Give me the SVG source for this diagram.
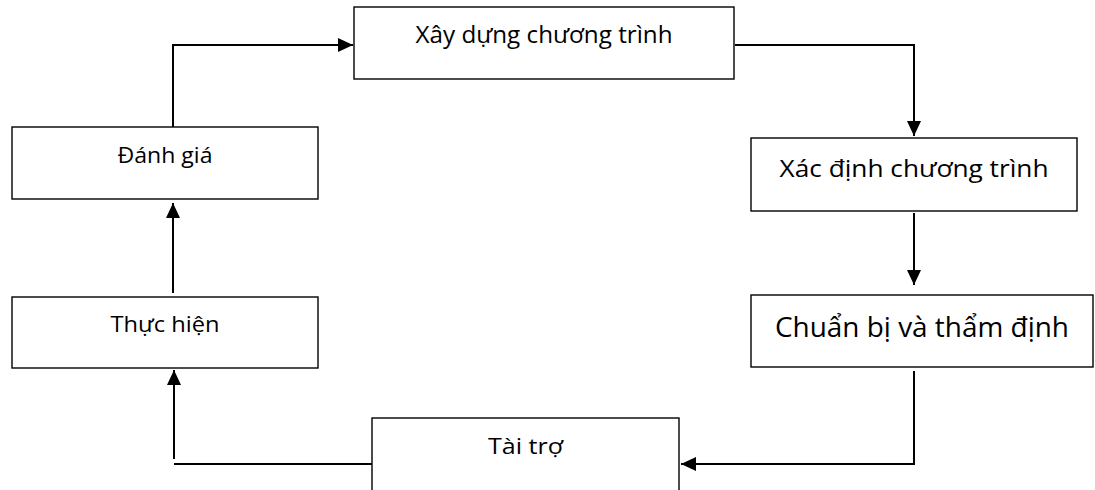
<svg xmlns="http://www.w3.org/2000/svg" width="1095" height="490" viewBox="0 0 1095 490">
<style>
.box{fill:#fff;stroke:#000;stroke-width:1.4}
.lbl{font-family:"Open Sans","Noto Sans",sans-serif;fill:#000;text-anchor:middle}
.conn{fill:none;stroke:#000;stroke-width:2}
</style>
<defs>
<marker id="ah" markerUnits="userSpaceOnUse" markerWidth="15" markerHeight="14" refX="15" refY="7" orient="auto">
<path d="M0,0 L15,7 L0,14 Z" fill="#000"/>
</marker>
</defs>
<rect width="1095" height="490" fill="#fff"/>
<g id="connectors">
<path class="conn" d="M173,127 V45 H353" marker-end="url(#ah)"/>
<path class="conn" d="M735,45 H914 V136" marker-end="url(#ah)"/>
<path class="conn" d="M914,213 V285" marker-end="url(#ah)"/>
<path class="conn" d="M914,371 V464 H681" marker-end="url(#ah)"/>
<path class="conn" d="M372,464 H174"/>
<path class="conn" d="M174,459 V370" marker-end="url(#ah)"/>
<path class="conn" d="M173,293 V203" marker-end="url(#ah)"/>
</g>
<g id="xay-dung">
<rect class="box" x="354" y="7" width="380" height="72"/>
<text class="lbl" x="544" y="43" font-size="23" textLength="257" lengthAdjust="spacingAndGlyphs">Xây dựng chương trình</text>
</g>
<g id="xac-dinh">
<rect class="box" x="751" y="138" width="326" height="73"/>
<text class="lbl" x="914" y="177" font-size="24" textLength="269" lengthAdjust="spacingAndGlyphs">Xác định chương trình</text>
</g>
<g id="chuan-bi">
<rect class="box" x="751" y="295" width="342" height="72"/>
<text class="lbl" x="922" y="337" font-size="27" textLength="294" lengthAdjust="spacingAndGlyphs">Chuẩn bị và thẩm định</text>
</g>
<g id="tai-tro">
<rect class="box" x="372" y="418" width="307" height="80"/>
<text class="lbl" x="525.5" y="454" font-size="22" textLength="75" lengthAdjust="spacingAndGlyphs">Tài trợ</text>
</g>
<g id="thuc-hien">
<rect class="box" x="12" y="297" width="306" height="71"/>
<text class="lbl" x="165" y="332" font-size="22" textLength="109" lengthAdjust="spacingAndGlyphs">Thực hiện</text>
</g>
<g id="danh-gia">
<rect class="box" x="12" y="127" width="306" height="72"/>
<text class="lbl" x="165" y="163" font-size="22" textLength="95" lengthAdjust="spacingAndGlyphs">Đánh giá</text>
</g>
</svg>
